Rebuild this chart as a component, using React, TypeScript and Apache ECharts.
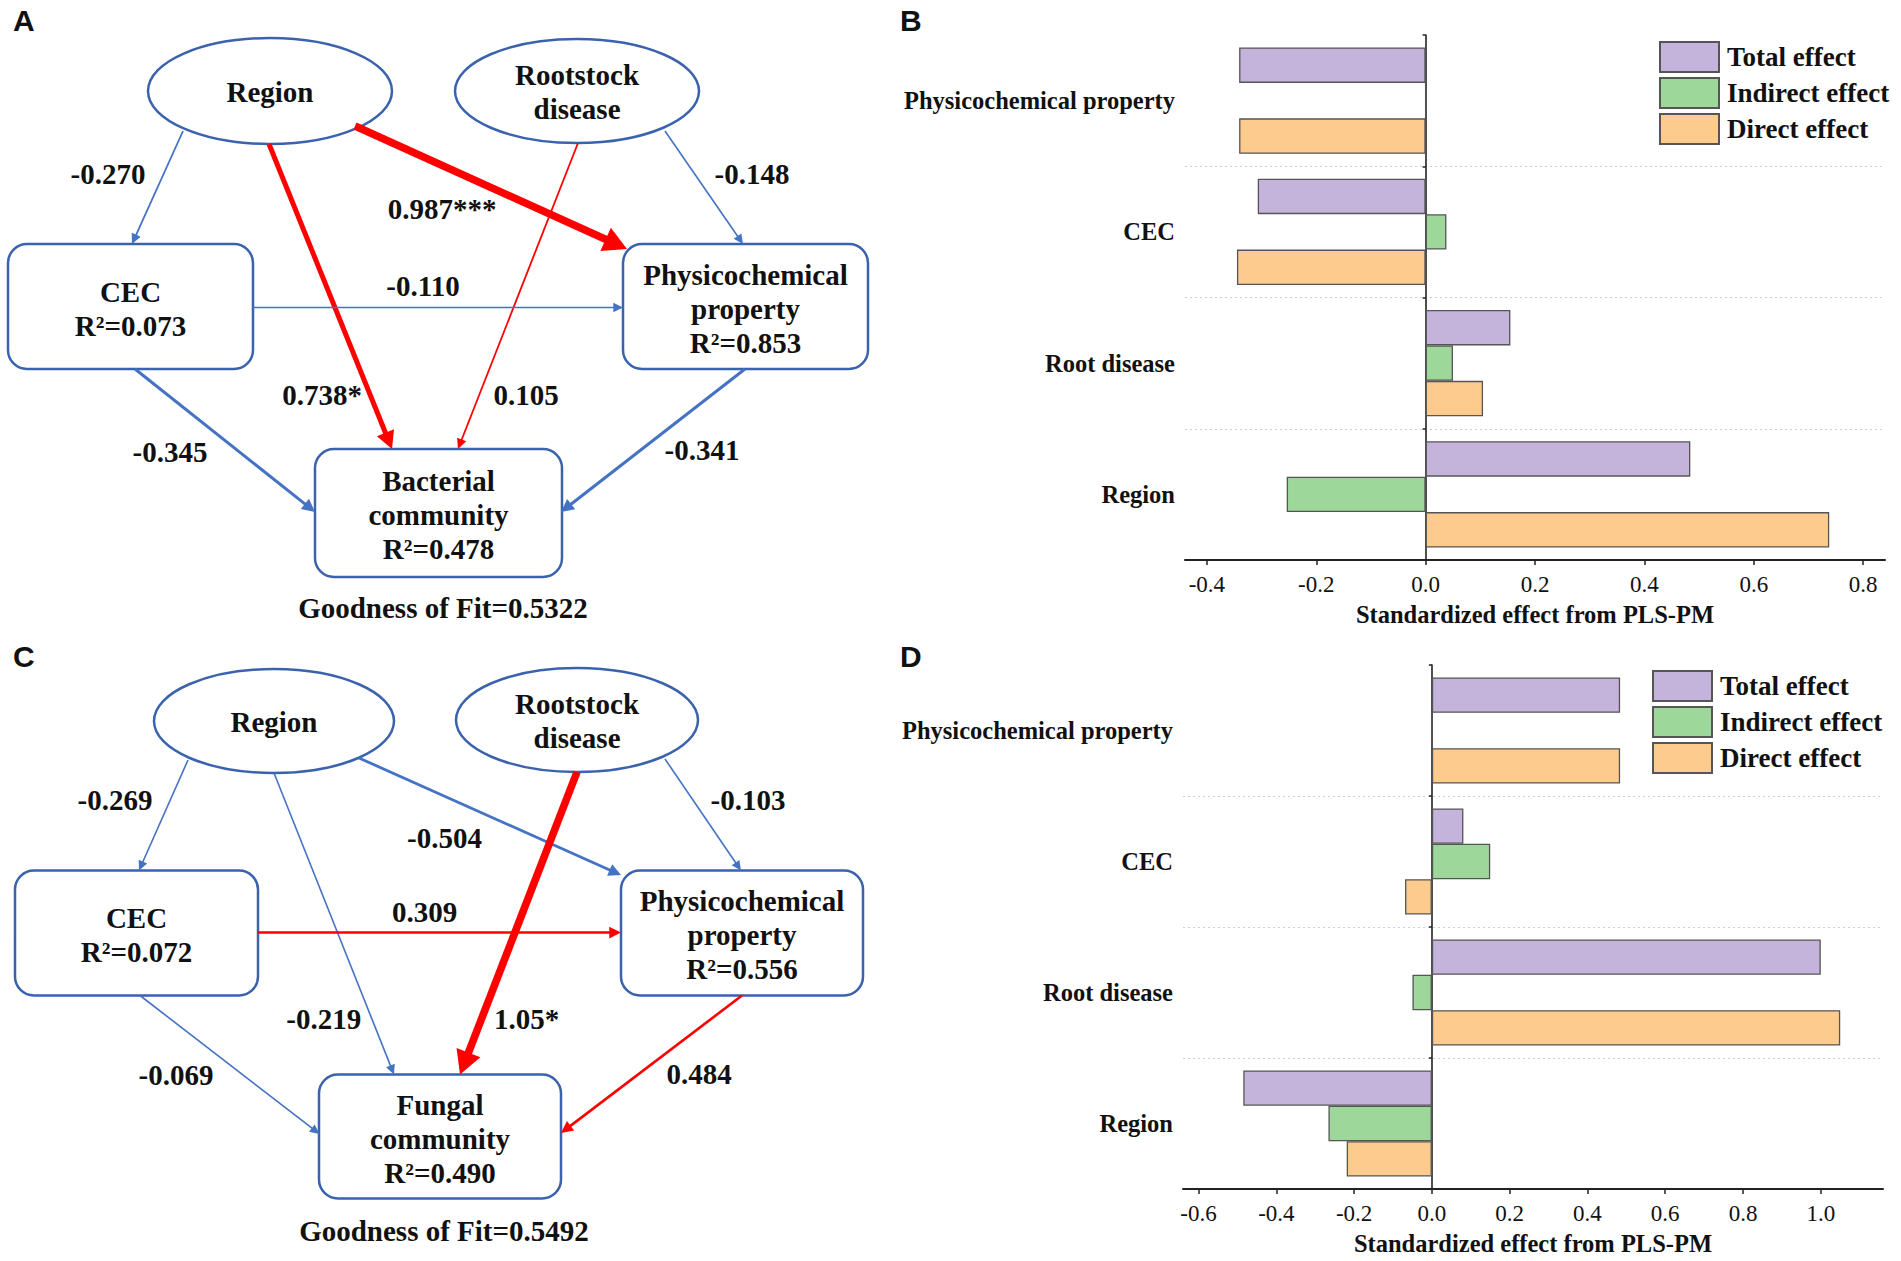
import React, { useEffect, useRef } from 'react';
import * as echarts from 'echarts';

// ---------------- Data ----------------
const CATEGORIES = ['Region', 'Root disease', 'CEC', 'Physicochemical property'];
const SERIES_NAMES = ['Total effect', 'Indirect effect', 'Direct effect'];

const B_TOTAL = [0.484, 0.155, -0.307, -0.341];
const B_INDIRECT = [-0.254, 0.05, 0.038, 0];
const B_DIRECT = [0.738, 0.105, -0.345, -0.341];
const B_TICKS = [-0.4, -0.2, 0, 0.2, 0.4, 0.6, 0.8];

const D_TOTAL = [-0.485, 1.0, 0.081, 0.484];
const D_INDIRECT = [-0.266, -0.05, 0.15, 0];
const D_DIRECT = [-0.219, 1.05, -0.069, 0.484];
const D_TICKS = [-0.6, -0.4, -0.2, 0, 0.2, 0.4, 0.6, 0.8, 1.0];

// Path model A (bacterial)
const A_NODE_NAMES = ['Region', 'Rootstock\ndisease', 'CEC', 'Physicochemical\nproperty', 'Bacterial\ncommunity'];
const A_R2 = [null, null, 0.073, 0.853, 0.478];
// edges: Region->CEC, Region->Phys, Region->Bact, Root->Phys, Root->Bact, CEC->Phys, CEC->Bact, Phys->Bact
const A_COEF = [-0.27, 0.987, 0.738, -0.148, 0.105, -0.11, -0.345, -0.341];
const A_SIG = ['', '***', '*', '', '', '', '', ''];
const A_GOF = 0.5322;

// Path model C (fungal)
const C_NODE_NAMES = ['Region', 'Rootstock\ndisease', 'CEC', 'Physicochemical\nproperty', 'Fungal\ncommunity'];
const C_R2 = [null, null, 0.072, 0.556, 0.49];
// edges: Region->CEC, Region->Phys, Region->Fungal, Root->Phys, Root->Fungal, CEC->Phys, CEC->Fungal, Phys->Fungal
const C_COEF = [-0.269, -0.504, -0.219, -0.103, 1.05, 0.309, -0.069, 0.484];
const C_SIG = ['', '', '', '', '*', '', '', ''];
const C_GOF = 0.5492;

// ---------------- Layout / styles ----------------
const SERIF = "'Liberation Serif', 'Times New Roman', serif";
const SANS = "'Liberation Sans', Arial, sans-serif";
const COLORS = ['#c4b3da', '#9dd79a', '#fecb8f'];
const NODE_STROKE = '#3a62ad';
const POS_COLOR = '#ff0000';
const NEG_COLOR = '#4472c4';

type NodeGeom = { kind: 'ellipse' | 'rect'; cx: number; cy: number; w: number; h: number };

const A_NODE_GEOM: NodeGeom[] = [
  { kind: 'ellipse', cx: 270, cy: 91, w: 244, h: 106 },
  { kind: 'ellipse', cx: 577, cy: 91, w: 244, h: 104 },
  { kind: 'rect', cx: 130.5, cy: 306.5, w: 245, h: 125 },
  { kind: 'rect', cx: 745.5, cy: 306.5, w: 245, h: 125 },
  { kind: 'rect', cx: 438.5, cy: 513, w: 247, h: 128 },
];
const A_EDGE_PTS = [
  [183, 131, 132, 244],
  [355, 126, 627, 249],
  [269, 144, 392, 449],
  [665, 131, 743, 244],
  [578, 143, 458, 449],
  [253, 307.5, 623, 307.5],
  [135, 369, 315, 512],
  [745, 369, 561, 512],
];
const A_EDGE_W = [1.8, 7.6, 5, 1.6, 1.8, 1.6, 3, 3];
const A_LABEL_POS = [
  [108, 174], [442, 209], [322, 395], [752, 174], [526, 395], [423, 286], [170, 452], [702, 450],
];
const A_GOF_POS = [443, 608];

const C_NODE_GEOM: NodeGeom[] = [
  { kind: 'ellipse', cx: 274, cy: 721, w: 240, h: 104 },
  { kind: 'ellipse', cx: 577, cy: 720, w: 242, h: 104 },
  { kind: 'rect', cx: 136.5, cy: 933, w: 243, h: 125 },
  { kind: 'rect', cx: 742, cy: 933, w: 242, h: 125 },
  { kind: 'rect', cx: 440, cy: 1136.5, w: 242, h: 124 },
];
const C_EDGE_PTS = [
  [188, 760, 139, 870.5],
  [359, 758, 621, 875],
  [274, 773, 394, 1074.5],
  [665, 759, 741, 870.5],
  [577, 772, 460, 1074.5],
  [258, 932.5, 621, 932.5],
  [140, 995.5, 319.5, 1134],
  [742, 995.5, 561, 1133],
];
const C_EDGE_W = [1.6, 2.8, 1.6, 1.6, 7.6, 2.5, 1.6, 2.6];
const C_LABEL_POS = [
  [115, 800], [444.5, 837.5], [323.7, 1019], [748, 800], [526.5, 1019], [424.5, 912], [176, 1075], [699, 1074],
];
const C_GOF_POS = [444, 1231];

function fmtCoef(c: number): string {
  return Math.abs(c) >= 1 ? c.toPrecision(3) : c.toFixed(3);
}

function textEl(x: number, y: number, text: string, size: number, family = SERIF, align = 'center', weight = 'bold') {
  return {
    type: 'text',
    x,
    y,
    z: 30,
    silent: true,
    style: {
      text,
      fill: '#111',
      fontSize: size,
      fontWeight: weight,
      fontFamily: family,
      lineHeight: 34,
      align,
      textAlign: align,
      verticalAlign: 'middle',
      textVerticalAlign: 'middle',
    },
  };
}

function arrowEls(p: number[], w: number, color: string) {
  const [x1, y1, x2, y2] = p;
  const dx = x2 - x1;
  const dy = y2 - y1;
  const L = Math.hypot(dx, dy);
  const ux = dx / L;
  const uy = dy / L;
  const hl = 6 + 2.3 * w;
  const hw = 2.5 + 1.35 * w;
  const bx = x2 - ux * hl;
  const by = y2 - uy * hl;
  const px = -uy;
  const py = ux;
  return [
    {
      type: 'line',
      z: 20,
      silent: true,
      shape: { x1, y1, x2: x2 - ux * hl * 0.85, y2: y2 - uy * hl * 0.85 },
      style: { stroke: color, lineWidth: w, lineCap: 'butt' },
    },
    {
      type: 'polygon',
      z: 21,
      silent: true,
      shape: { points: [[x2, y2], [bx + px * hw, by + py * hw], [bx - px * hw, by - py * hw]] },
      style: { fill: color },
    },
  ];
}

function diagram(
  names: string[],
  r2: (number | null)[],
  geom: NodeGeom[],
  coef: number[],
  sig: string[],
  pts: number[][],
  widths: number[],
  labelPos: number[][],
  gof: number,
  gofPos: number[],
) {
  const els: any[] = [];
  geom.forEach((g, i) => {
    if (g.kind === 'ellipse') {
      els.push({
        type: 'ellipse',
        z: 10,
        silent: true,
        shape: { cx: g.cx, cy: g.cy, rx: g.w / 2, ry: g.h / 2 },
        style: { fill: '#fff', stroke: NODE_STROKE, lineWidth: 2.5 },
      });
    } else {
      els.push({
        type: 'rect',
        z: 10,
        silent: true,
        shape: { x: g.cx - g.w / 2, y: g.cy - g.h / 2, width: g.w, height: g.h, r: 19 },
        style: { fill: '#fff', stroke: NODE_STROKE, lineWidth: 2.5 },
      });
    }
    const label = r2[i] != null ? `${names[i]}\nR²=${(r2[i] as number).toFixed(3)}` : names[i];
    els.push(textEl(g.cx, g.cy + (g.kind === 'rect' ? 2 : 1), label, 29));
  });
  coef.forEach((c, i) => {
    els.push(...arrowEls(pts[i], widths[i], c >= 0 ? POS_COLOR : NEG_COLOR));
    els.push(textEl(labelPos[i][0], labelPos[i][1], fmtCoef(c) + sig[i], 29));
  });
  els.push(textEl(gofPos[0], gofPos[1], `Goodness of Fit=${gof.toFixed(4)}`, 29));
  return els;
}

function mkX(gridIndex: number, min: number, max: number, ticks: number[]) {
  return {
    gridIndex,
    type: 'value',
    min,
    max,
    axisLine: { show: true, onZero: false, lineStyle: { color: '#222', width: 2 } },
    axisTick: { show: true, length: 5, lineStyle: { color: '#222', width: 1.5 }, customValues: ticks },
    axisLabel: {
      show: true,
      customValues: ticks,
      formatter: (v: number) => {
        const r = Math.round(v * 10) / 10;
        return Math.abs(r - v) < 1e-6 ? r.toFixed(1) : '';
      },
      color: '#111',
      fontSize: 23,
      fontFamily: SERIF,
      margin: 13,
    },
    splitLine: { show: false },
    name: 'Standardized effect from PLS-PM',
    nameLocation: 'middle',
    nameGap: 42,
    nameTextStyle: { fontSize: 24.5, fontWeight: 'bold', color: '#111', fontFamily: SERIF },
  };
}

function mkYLabels(gridIndex: number) {
  return {
    gridIndex,
    type: 'category',
    data: CATEGORIES,
    axisLine: { show: false, onZero: false },
    axisTick: { show: false },
    axisLabel: { interval: 0, fontSize: 24.5, fontWeight: 'bold', color: '#111', margin: 10, fontFamily: SERIF },
    splitLine: {
      show: true,
      showMinLine: false,
      showMaxLine: false,
      lineStyle: { color: '#cfcfcf', type: [2, 3], width: 1.2 },
    },
  };
}

function mkYZero(gridIndex: number) {
  return {
    gridIndex,
    type: 'category',
    data: CATEGORIES,
    position: 'left',
    axisLine: { show: true, onZero: true, lineStyle: { color: '#222', width: 1.6 } },
    axisTick: { show: true, length: 3, lineStyle: { color: '#222', width: 1.5 } },
    axisLabel: { show: false },
    splitLine: { show: false },
  };
}

function mkLegend(left: number, top: number) {
  return {
    show: true,
    orient: 'vertical',
    left,
    top,
    padding: 0,
    itemWidth: 59,
    itemHeight: 30,
    itemGap: 4,
    icon: 'rect',
    selectedMode: false,
    data: SERIES_NAMES,
    textStyle: { fontSize: 27, fontWeight: 'bold', color: '#111', fontFamily: SERIF, padding: [0, 0, 0, 3] },
  };
}

function mkBars(xAxisIndex: number, yAxisIndex: number, data: number[][]) {
  return data.map((d, i) => ({
    type: 'bar',
    name: SERIES_NAMES[i],
    xAxisIndex,
    yAxisIndex,
    data: d,
    barGap: '0%',
    barCategoryGap: '19%',
    silent: true,
    itemStyle: { color: COLORS[i], borderColor: '#555555', borderWidth: 1.3 },
    emphasis: { disabled: true },
  }));
}

export default function App() {
  const ref = useRef<HTMLDivElement>(null);
  useEffect(() => {
    document.body.style.margin = '0';
    document.body.style.overflow = 'hidden';
    if (!ref.current) return;
    const chart = echarts.init(ref.current, null, { renderer: 'svg' });
    const graphics = [
      textEl(13, 20, 'A', 30, SANS, 'left'),
      textEl(900, 20, 'B', 30, SANS, 'left'),
      textEl(13, 656, 'C', 30, SANS, 'left'),
      textEl(900, 656, 'D', 30, SANS, 'left'),
      ...diagram(A_NODE_NAMES, A_R2, A_NODE_GEOM, A_COEF, A_SIG, A_EDGE_PTS, A_EDGE_W, A_LABEL_POS, A_GOF, A_GOF_POS),
      ...diagram(C_NODE_NAMES, C_R2, C_NODE_GEOM, C_COEF, C_SIG, C_EDGE_PTS, C_EDGE_W, C_LABEL_POS, C_GOF, C_GOF_POS),
    ];
    const option: any = {
      animation: false,
      backgroundColor: '#ffffff',
      textStyle: { fontFamily: SERIF },
      grid: [
        { left: 1185, top: 35, width: 700, height: 525, containLabel: false, outerBoundsMode: 'none' },
        { left: 1183, top: 665, width: 700, height: 524, containLabel: false, outerBoundsMode: 'none' },
      ],
      xAxis: [mkX(0, -0.44, 0.84, B_TICKS), mkX(1, -0.64, 1.16, D_TICKS)],
      yAxis: [mkYLabels(0), mkYZero(0), mkYLabels(1), mkYZero(1)],
      legend: [mkLegend(1659, 41), mkLegend(1652, 670)],
      series: [
        ...mkBars(0, 0, [B_TOTAL, B_INDIRECT, B_DIRECT]),
        ...mkBars(1, 2, [D_TOTAL, D_INDIRECT, D_DIRECT]),
      ],
      graphic: { elements: graphics },
    };
    chart.setOption(option);
    return () => chart.dispose();
  }, []);
  return <div ref={ref} style={{ width: 1901, height: 1261 }} />;
}
